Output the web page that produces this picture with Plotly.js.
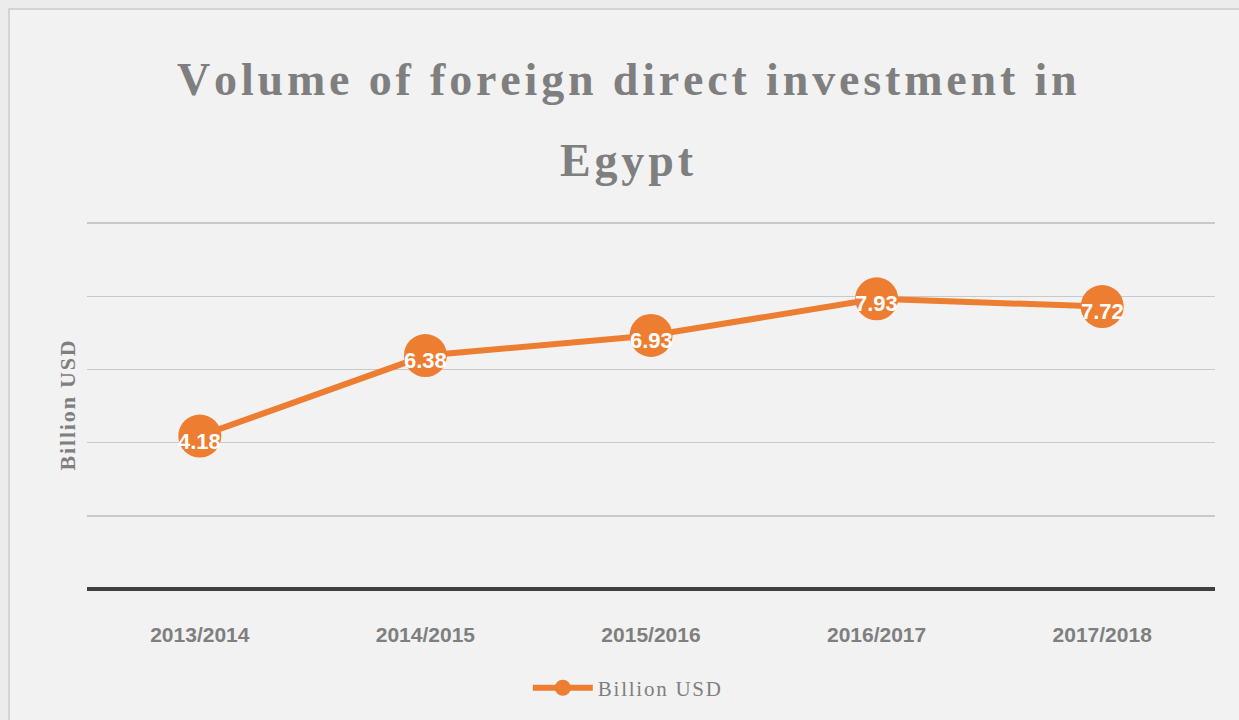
<!DOCTYPE html>
<html>
<head>
<meta charset="utf-8">
<script src="https://cdn.plot.ly/plotly-3.0.1.min.js"></script>
<style>
  html, body { margin: 0; padding: 0; background: #ececec; }
  #frame { position: absolute; left: 8px; top: 8px; width: 1240px; height: 720px; background: #f2f2f2; border-left: 2px solid #d4d4d4; border-top: 2px solid #d4d4d4; }
  #chart { position: absolute; left: 0; top: 0; width: 1239px; height: 720px; }
</style>
</head>
<body>
<div id="frame"></div>
<div id="chart"></div>
<script>
const categories = ["2013/2014", "2014/2015", "2015/2016", "2016/2017", "2017/2018"];
const values = [4.18, 6.38, 6.93, 7.93, 7.72];
const seriesName = "Billion USD";
const titleLine1 = "Volume of foreign direct investment in";
const titleLine2 = "Egypt";

const orange = "#ed7d31";
const gray = "#7f7f7f";
const spaced = s => s.split("").join("\u200A");

const trace = {
  x: categories,
  y: values,
  type: "scatter",
  mode: "lines+markers",
  name: spaced(seriesName),
  line: { color: orange, width: 6 },
  marker: { color: orange, size: 43 },
  cliponaxis: false,
  hoverinfo: "skip"
};

const labelAnnotations = categories.map((c, i) => ({
  x: c, y: values[i], xref: "x", yref: "y",
  text: "<b>" + values[i].toFixed(2) + "</b>",
  showarrow: false,
  yshift: -5,
  font: { family: "Liberation Sans, Arial", size: 22, color: "#ffffff" }
}));

const layout = {
  width: 1239,
  height: 720,
  paper_bgcolor: "rgba(0,0,0,0)",
  plot_bgcolor: "rgba(0,0,0,0)",
  margin: { l: 87, r: 24, t: 222, b: 131 },
  showlegend: true,
  legend: {
    orientation: "h",
    x: 0.479, xanchor: "center",
    y: -0.27, yanchor: "middle",
    font: { family: "Liberation Serif, serif", size: 21, color: gray },
    itemwidth: 60,
    bgcolor: "rgba(0,0,0,0)"
  },
  xaxis: {
    type: "category",
    range: [-0.5, 4.5],
    showgrid: false,
    showline: false,
    zeroline: false,
    ticks: "",
    ticklabelstandoff: 31,
    tickfont: { family: "Liberation Sans, Arial", size: 21, color: gray, weight: "bold" },
    fixedrange: true
  },
  yaxis: {
    range: [0, 10.03],
    dtick: 2,
    tick0: 0,
    showticklabels: false,
    showgrid: true,
    gridcolor: "#c9c9c9",
    gridwidth: 1.5,
    zeroline: true,
    zerolinecolor: "#404040",
    zerolinewidth: 3.5,
    showline: false,
    ticks: "",
    fixedrange: true
  },
  annotations: [
    {
      text: "<b>" + spaced(titleLine1) + "</b>",
      xref: "paper", yref: "paper",
      x: 0.479, y: 1, xanchor: "center", yanchor: "middle",
      yshift: 143,
      showarrow: false,
      font: { family: "Liberation Serif, serif", size: 46, color: gray }
    },
    {
      text: "<b>" + spaced(titleLine2) + "</b>",
      xref: "paper", yref: "paper",
      x: 0.479, y: 1, xanchor: "center", yanchor: "middle",
      yshift: 62,
      showarrow: false,
      font: { family: "Liberation Serif, serif", size: 46, color: gray }
    },
    {
      text: "<b>" + spaced(seriesName) + "</b>",
      xref: "paper", yref: "paper",
      x: 0, y: 0.5, xanchor: "center", yanchor: "middle",
      xshift: -20,
      textangle: -90,
      showarrow: false,
      font: { family: "Liberation Serif, serif", size: 22, color: gray }
    }
  ].concat(labelAnnotations)
};

Plotly.newPlot("chart", [trace], layout, { displayModeBar: false, staticPlot: true });
</script>
</body>
</html>
